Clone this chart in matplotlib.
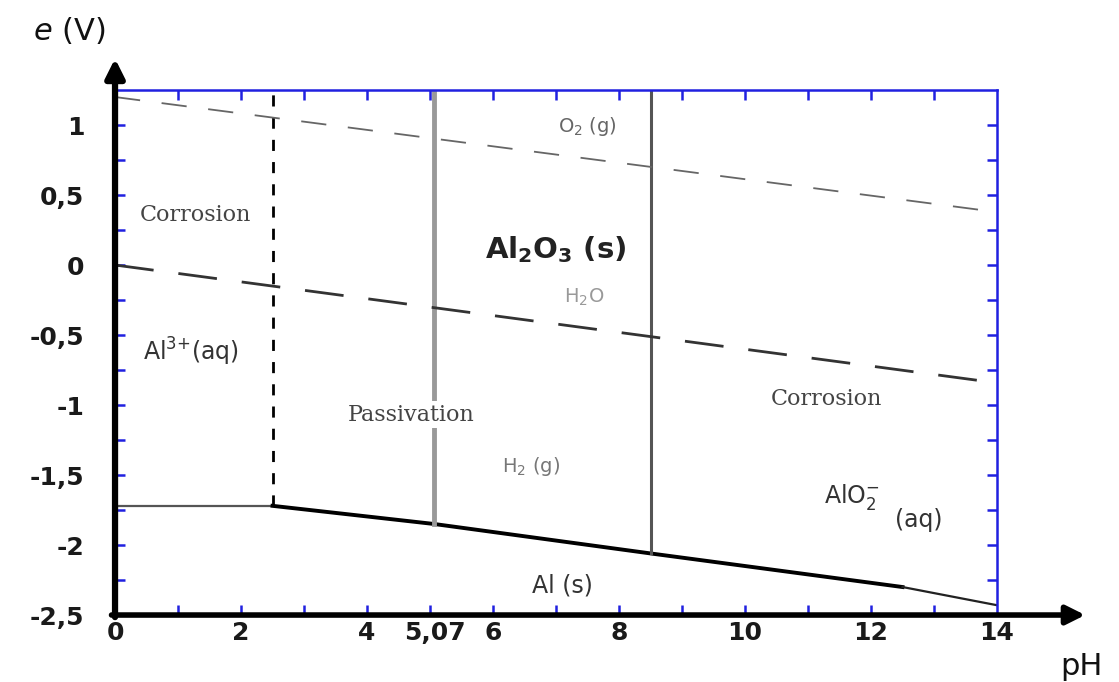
import matplotlib
matplotlib.use("Agg")
import matplotlib.pyplot as plt
import numpy as np

plt.rcParams['font.family'] = ['DejaVu Sans']
plt.rcParams['mathtext.fontset'] = 'custom'
plt.rcParams['mathtext.rm'] = 'DejaVu Sans'
plt.rcParams['mathtext.it'] = 'DejaVu Sans:italic'
plt.rcParams['mathtext.bf'] = 'DejaVu Sans:bold'
plt.rcParams['mathtext.default'] = 'regular'

# boundaries (pH, e in V)
al3_ph = [0, 2.5]
al3_e = [-1.72, -1.72]
oxide_ph = [2.5, 5.07, 8.5, 12.5]
oxide_e = [-1.72, -1.85, -2.06, -2.30]
alo2_ph = [12.5, 14]
alo2_e = [-2.30, -2.43]

o2_ph = [0, 13.8]
o2_e = [1.20, 0.39]
h2_ph = [0, 13.8]
h2_e = [0.0, -0.83]

# vertical limits: pH, bottom e
vert_ph = [2.5, 5.07, 8.5]
vert_bottom = [-1.72, -1.85, -2.06]
e_top = 1.25

xtick_vals = [0, 2, 4, 5.07, 6, 8, 10, 12, 14]
xtick_labels = ['0', '2', '4', '5,07', '6', '8', '10', '12', '14']
ytick_vals = [1, 0.5, 0, -0.5, -1, -1.5, -2, -2.5]
ytick_labels = ['1', '0,5', '0', '-0,5', '-1', '-1,5', '-2', '-2,5']

fig = plt.figure(figsize=(11.19, 6.82), dpi=100)
ax = fig.add_axes([0.1028, 0.0982, 0.7882, 0.7698])
ax.set_xlim(0, 14)
ax.set_ylim(-2.5, e_top)

# frame
for s in ['top', 'right']:
    ax.spines[s].set_color('#2020e0')
    ax.spines[s].set_linewidth(1.8)
for s in ['left', 'bottom']:
    ax.spines[s].set_visible(False)
ax.annotate('', xy=(0, 1.06), xytext=(0, -0.004), xycoords='axes fraction',
            arrowprops=dict(arrowstyle='-|>', lw=4.5, color='black', mutation_scale=28,
                            shrinkA=0, shrinkB=0), annotation_clip=False)
ax.annotate('', xy=(1.10, 0), xytext=(-0.004, 0), xycoords='axes fraction',
            arrowprops=dict(arrowstyle='-|>', lw=4, color='black', mutation_scale=28,
                            shrinkA=0, shrinkB=0), annotation_clip=False)

# ticks
ax.set_xticks(xtick_vals)
ax.set_xticklabels(xtick_labels)
ax.set_yticks(ytick_vals)
ax.set_yticklabels(ytick_labels)
ax.set_xticks(np.arange(1, 14), minor=True)
ax.set_yticks(np.arange(-2.25, 1.01, 0.25), minor=True)
ax.xaxis.remove_overlapping_locs = False
ax.yaxis.remove_overlapping_locs = False
ax.tick_params(axis='both', which='major', length=0, labelsize=18, colors='#1a1a1a')
for lab in ax.get_xticklabels() + ax.get_yticklabels():
    lab.set_fontweight('bold')
ax.tick_params(axis='x', which='major', pad=4)
ax.tick_params(axis='y', which='major', pad=22)
ax.tick_params(which='minor', direction='in', length=7, width=1.8, color='#2020e0',
               top=True, right=True, bottom=True, left=True)

# boundaries
ax.plot(al3_ph, al3_e, color='#555555', lw=1.6)
ax.plot(oxide_ph, oxide_e, color='black', lw=2.8)
ax.plot(alo2_ph, alo2_e, color='#222222', lw=1.6)

ax.plot([vert_ph[0]] * 2, [vert_bottom[0], e_top], color='black', lw=2,
        dashes=(4, 4))
ax.plot([vert_ph[1]] * 2, [vert_bottom[1], e_top], color='#999999', lw=3.5)
ax.plot([vert_ph[2]] * 2, [vert_bottom[2], e_top], color='#555555', lw=2.2)

ax.plot(o2_ph, o2_e, color='#666666', lw=1.3, dashes=(14, 12))
ax.plot(h2_ph, h2_e, color='#333333', lw=2, dashes=(14, 9))

# labels
serif = dict(family='DejaVu Serif', fontsize=16, color='#444444', ha='center', va='center')
ax.text(1.27, 0.36, 'Corrosion', **serif)
ax.text(4.7, -1.07, 'Passivation', bbox=dict(facecolor='white', edgecolor='none', pad=2), **serif)
ax.text(11.3, -0.96, 'Corrosion', **serif)

ax.text(1.2, -0.62, r'Al$^{3{+}}$(aq)', fontsize=17, color='#333333', ha='center', va='center')
ax.text(7.0, 0.11, r'Al$_2$O$_3$ (s)', fontsize=21, fontweight='bold', color='#222222',
        ha='center', va='center')
ax.text(7.5, 0.99, r'O$_2$ (g)', fontsize=14, color='#666666', ha='center', va='center')
ax.text(7.45, -0.23, r'H$_2$O', fontsize=14, color='#999999', ha='center', va='center')
ax.text(6.6, -1.44, r'H$_2$ (g)', fontsize=14, color='#777777', ha='center', va='center')
ax.text(7.1, -2.29, 'Al (s)', fontsize=17, color='#333333', ha='center', va='center')
ax.text(11.7, -1.66, r'AlO$_2^{-}$', fontsize=17, color='#333333', ha='center', va='center')
ax.text(12.75, -1.82, '(aq)', fontsize=17, color='#333333', ha='center', va='center')

fig.text(0.062, 0.955, r'$\mathit{e}$ (V)', fontsize=22, color='#111111', ha='center', va='center')
fig.text(0.966, 0.023, 'pH', fontsize=22, color='#111111', ha='center', va='center')

fig.savefig('out.png', dpi=100)
